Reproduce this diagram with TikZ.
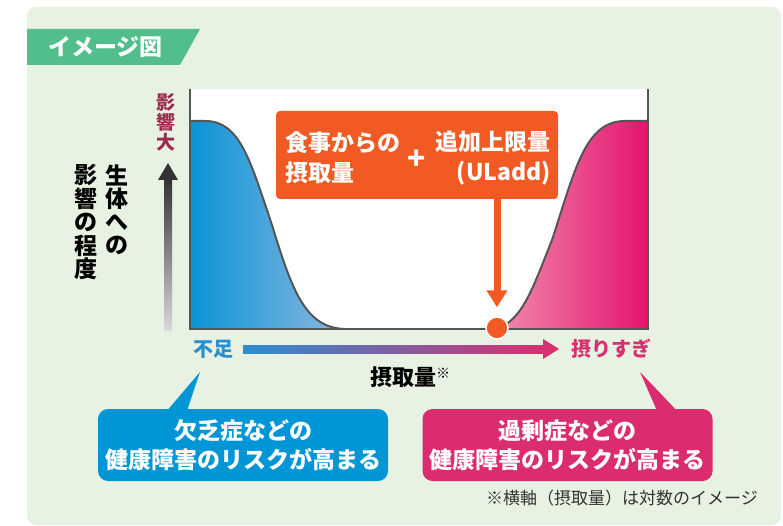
\documentclass[tikz,border=0pt]{standalone}
\usepackage{fontspec}
\setmainfont{Noto Sans CJK JP}
\usetikzlibrary{arrows.meta, calc}

\definecolor{panelgreen}{HTML}{E7F2E2}
\definecolor{tabgreen}{HTML}{52BE8C}
\definecolor{maroon}{HTML}{9E2A4E}
\definecolor{lackblue}{HTML}{0096D6}
\definecolor{lackleft}{HTML}{0A94D6}
\definecolor{lackright}{HTML}{8CB8E0}
\definecolor{lacktext}{HTML}{2A8FD0}
\definecolor{overpink}{HTML}{DB2C6F}
\definecolor{overleft}{HTML}{F290B0}
\definecolor{overright}{HTML}{E4136F}
\definecolor{overtext}{HTML}{D8306F}
\definecolor{dosorange}{HTML}{F15A22}
\definecolor{axisgray}{HTML}{555555}
\definecolor{notegray}{HTML}{333333}

\begin{document}
\begin{tikzpicture}[x=1pt,y=-1pt,
    jtext/.style={font=\bfseries\fontsize{23}{30}\selectfont, text=white, inner sep=0pt},
    vtext/.style={font=\bfseries\fontsize{23}{23}\selectfont, text=black, inner sep=0pt},
    curve/.style={draw=axisgray, line width=2pt},
    axisline/.style={draw=axisgray, line width=2.5pt},
    callout/.style={jtext, font=\bfseries\fontsize{23}{29}\selectfont, align=center, rounded corners=10pt, minimum width=290pt, minimum height=72pt}]
    \useasboundingbox (0,0) rectangle (783,526);
    \fill[panelgreen, rounded corners=9pt] (27,7) rectangle (781,525);
    \fill[tabgreen] (27,29) -- (200,29) -- (180,65) -- (27,65) -- cycle;
    \node[jtext, anchor=west, font=\bfseries\fontsize{23}{23}\selectfont] (title) at (48,47) {イメージ図};

    % plot area
    \fill[white] (190,89) rectangle (648,329);
    \shade[left color=lackleft, right color=lackright] (190,329) -- (190,121) -- (205,121)
        .. controls (240,121) and (250,160) .. (272,225)
        .. controls (292,290) and (305,328) .. (345,329) -- cycle;
    \draw[curve] (190,121) -- (205,121)
        .. controls (240,121) and (250,160) .. (272,225)
        .. controls (292,290) and (305,328) .. (345,329);
    \shade[left color=overleft, right color=overright] (490,329)
        .. controls (520,328) and (532,290) .. (552,240)
        .. controls (575,170) and (585,121) .. (625,121) -- (648,121) -- (648,329) -- cycle;
    \draw[curve] (490,329)
        .. controls (520,328) and (532,290) .. (552,240)
        .. controls (575,170) and (585,121) .. (625,121) -- (648,121);
    \draw[axisline] (190,89) -- (190,330);
    \draw[axisline] (648,89) -- (648,330);
    \draw[axisline] (189,329) -- (649,329);

    % y axis
    \foreach \c [count=\i] in {影,響,大}
        \node[vtext, font=\bfseries\fontsize{19}{19}\selectfont, text=maroon] (big\i) at (166,82+20*\i) {\c};
    \foreach \c [count=\i] in {生,体,へ,の}
        \node[vtext] (body\i) at (117,151.5+23.5*\i) {\c};
    \foreach \c [count=\i] in {影,響,の,程,度}
        \node[vtext] (degree\i) at (86,151.5+23.5*\i) {\c};
    \coordinate (ybot) at (168,330);
    \coordinate (ytop) at (168,163);
    \shade[top color=black!80, bottom color=black!15] ($(ybot)+(-4,0)$) rectangle ($(ytop)+(4,16)$);
    \fill[black!80] ($(ytop)+(-10,17)$) -- (ytop) -- ($(ytop)+(10,17)$) -- cycle;

    % x axis
    \coordinate (xl) at (243,349);
    \coordinate (xr) at (559,349);
    \shade[left color=lacktext, middle color=blue!30!overtext, right color=overtext]
        ($(xl)+(0,-4)$) rectangle ($(xr)+(-15,4)$);
    \fill[overtext] ($(xr)+(-16,-10)$) -- (xr) -- ($(xr)+(-16,10)$) -- cycle;
    \node[vtext, font=\bfseries\fontsize{20}{20}\selectfont, text=lacktext] (short) at (213,349) {不足};
    \node[vtext, font=\bfseries\fontsize{20}{20}\selectfont, text=overtext] (over) at (611,349) {摂りすぎ};
    \node[vtext, font=\bfseries\fontsize{22}{22}\selectfont] (amount) at (410,377)
        {摂取量\raisebox{7pt}{\fontsize{14}{14}\selectfont ※}};

    % upper limit
    \node[fill=dosorange, rounded corners=4pt, minimum width=282pt, minimum height=88pt, inner sep=0pt] (total) at (417,155) {};
    \node[jtext, anchor=west, align=left] (food) at (285,158) {食事からの\\摂取量};
    \node[jtext, font=\bfseries\fontsize{30}{30}\selectfont] (plus) at (417,160) {+};
    \node[jtext, anchor=east, align=right] (uladd) at (551,158) {追加上限量\\(ULadd)};
    \node[circle, fill=dosorange, draw=white, line width=1.5pt, minimum size=22pt, inner sep=0pt] (dot) at (497,328) {};
    \draw[dosorange, line width=7pt, -{Triangle[length=17pt, width=20pt]}, shorten >=9pt] (total.south -| dot) -- (dot.north);

    % callouts
    \coordinate (lacktip) at (200,372);
    \coordinate (overtip) at (640,372);
    \node[callout, fill=lackblue] (lack) at (243,445) {欠乏症などの\\健康障害のリスクが高まる};
    \fill[lackblue] ($(lack.north)+(-76,2)$) -- (lacktip) -- ($(lack.north)+(-56,2)$) -- cycle;
    \node[callout, fill=overpink] (excess) at (567.5,445) {過剰症などの\\健康障害のリスクが高まる};
    \fill[overpink] ($(excess.north)+(89.5,2)$) -- (overtip) -- ($(excess.north)+(109.5,2)$) -- cycle;

    \node[anchor=east, inner sep=0pt, font=\fontsize{17}{17}\selectfont, text=notegray] (note) at (758,498) {※横軸（摂取量）は対数のイメージ};
\end{tikzpicture}
\end{document}
